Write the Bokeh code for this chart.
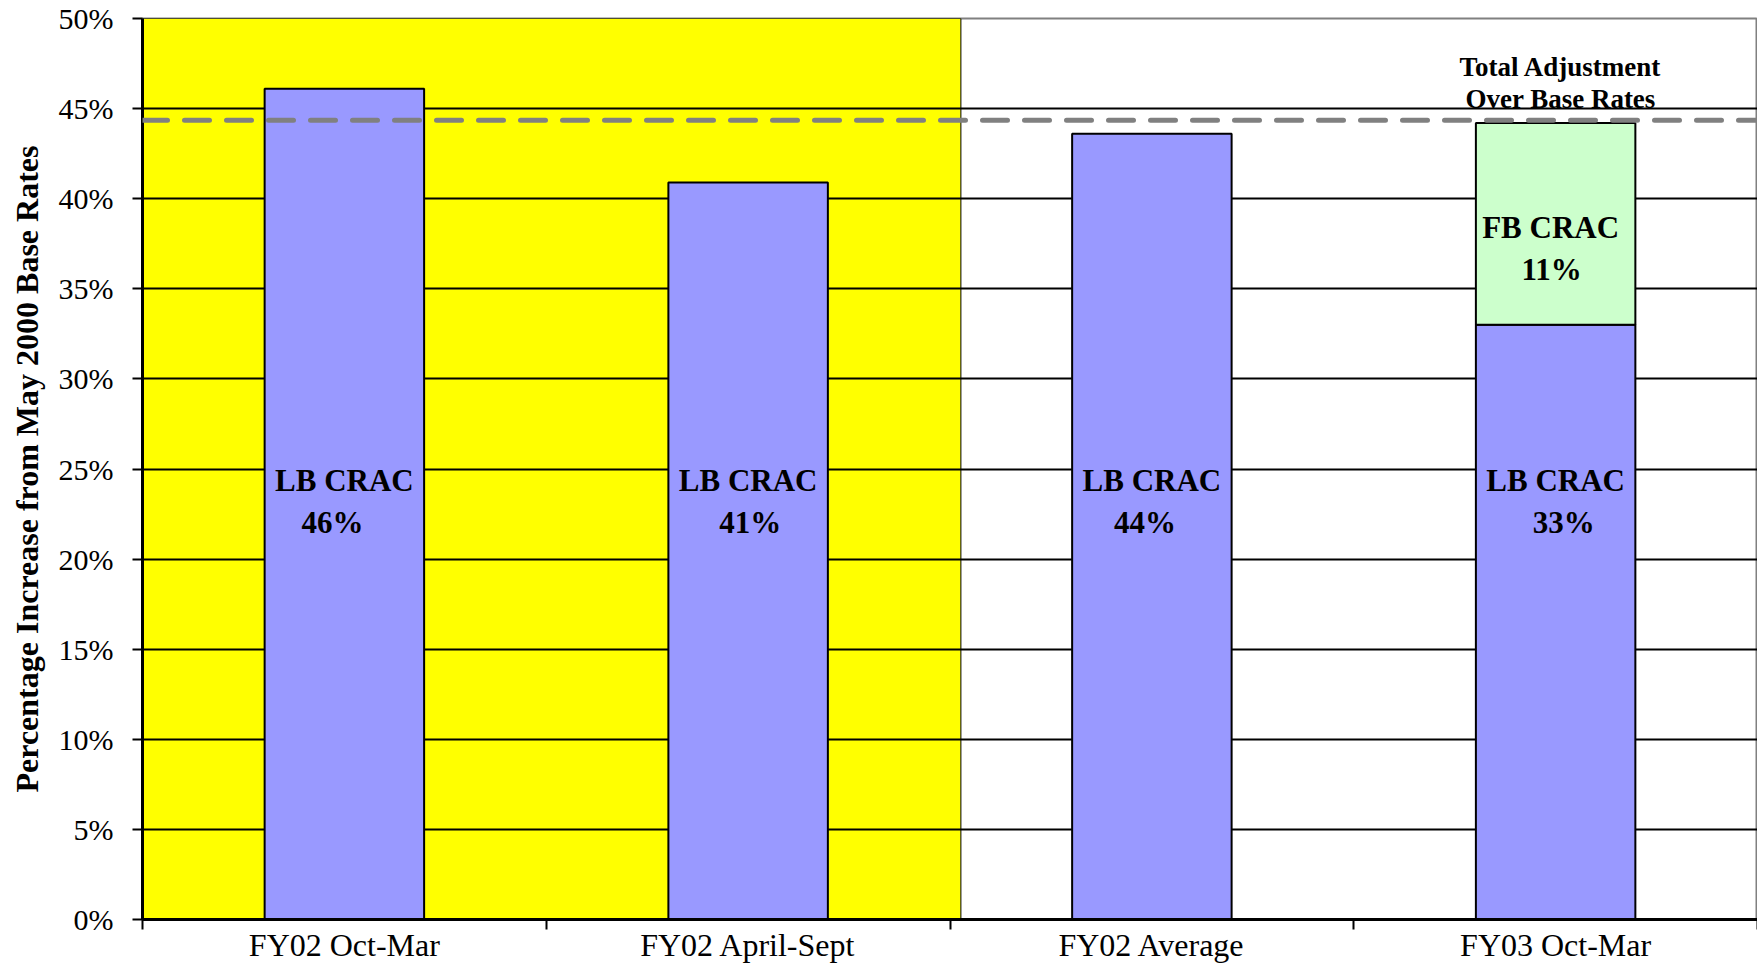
from bokeh.plotting import figure
from bokeh.models import FixedTicker, Span, Range1d
from bokeh.core.properties import value
from bokeh.embed import file_html
from bokeh.resources import INLINE

# ---- data ----
categories = ["FY02 Oct-Mar", "FY02 April-Sept", "FY02 Average", "FY03 Oct-Mar"]
lb_crac = [46.1, 40.9, 43.6, 33.0]
fb_crac = [0.0, 0.0, 0.0, 11.2]
lb_labels = ["46%", "41%", "44%", "33%"]
fb_labels = ["", "", "", "11%"]
total_adjustment = 44.35
y_ticks = [0, 5, 10, 15, 20, 25, 30, 35, 40, 45, 50]
y_tick_labels = ["0%", "5%", "10%", "15%", "20%", "25%", "30%", "35%", "40%", "45%", "50%"]
shaded_count = 2  # FY02 periods highlighted in yellow

FONT = "Liberation Serif"

n = len(categories)
xs = [i + 0.5 for i in range(n)]
bounds = [float(i) for i in range(n + 1)]

p = figure(width=1757, height=965,
           x_range=Range1d(0, n), y_range=Range1d(y_ticks[0], y_ticks[-1]),
           output_backend="svg", toolbar_location=None,
           min_border_left=142, min_border_right=0,
           min_border_top=18, min_border_bottom=46)
p.background_fill_color = "white"
p.border_fill_color = "white"
p.outline_line_color = "#808080"
p.outline_line_width = 2

# yellow highlighted region (below the grid)
p.quad(left=0, right=shaded_count + 0.027, bottom=y_ticks[0], top=y_ticks[-1],
       fill_color="#FFFF00", line_color="black", line_width=1, level="image")

# grid
p.xgrid.visible = False
p.ygrid.ticker = FixedTicker(ticks=y_ticks[1:-1])
p.ygrid.grid_line_color = "black"
p.ygrid.grid_line_width = 2

# bars
p.vbar(x=xs, bottom=0, top=lb_crac, width=0.395,
       fill_color="#9999FF", line_color="black", line_width=2)
fx = [x for x, f in zip(xs, fb_crac) if f > 0]
fb0 = [b for b, f in zip(lb_crac, fb_crac) if f > 0]
fb1 = [b + f for b, f in zip(lb_crac, fb_crac) if f > 0]
p.vbar(x=fx, bottom=fb0, top=fb1, width=0.395,
       fill_color="#CCFFCC", line_color="black", line_width=2)

# total adjustment line
p.add_layout(Span(location=total_adjustment, dimension="width",
                  line_color="#808080", line_width=5,
                  line_dash="25 17", line_cap="round"))

# labels in bars
txt = dict(text_align="center", text_baseline="alphabetic",
           text_font=value(FONT), text_font_style="bold",
           text_font_size="31px", text_color="black", y_offset=-10)
p.text(x=xs, y=[23.8] * n, text=["LB CRAC"] * n, **txt)
p.text(x=xs, y=[21.5] * n, text=lb_labels,
       x_offset=[-12, 2, -7, 8], **txt)
p.text(x=fx, y=[37.83] * len(fx), text=["FB CRAC"] * len(fx), x_offset=-5, **txt)
p.text(x=fx, y=[35.53] * len(fx), text=[l for l in fb_labels if l], x_offset=-4, **txt)

txt2 = dict(txt)
txt2["text_font_size"] = "27px"
txt2["y_offset"] = -8
p.text(x=[xs[-1]], y=[46.84], text=["Total Adjustment"], x_offset=5, **txt2)
p.text(x=[xs[-1]], y=[45.1], text=["Over Base Rates"], x_offset=5, **txt2)

# y axis
ya = p.yaxis[0]
ya.ticker = FixedTicker(ticks=y_ticks, minor_ticks=[])
ya.major_label_overrides = {t: l for t, l in zip(y_ticks, y_tick_labels)}
ya.major_tick_out = 10
ya.major_tick_in = 0
ya.major_tick_line_width = 2
ya.major_tick_line_color = "black"
ya.axis_line_color = "black"
ya.axis_line_width = 3
ya.major_label_standoff = 19
ya.major_label_text_font = FONT
ya.major_label_text_font_size = "30px"
ya.major_label_text_color = "black"
ya.axis_label = "Percentage Increase from May 2000 Base Rates"
ya.axis_label_text_font = FONT
ya.axis_label_text_font_style = "bold"
ya.axis_label_text_font_size = "32px"
ya.axis_label_text_color = "black"
ya.axis_label_standoff = 11

# x axis
xa = p.xaxis[0]
xa.ticker = FixedTicker(ticks=xs, minor_ticks=bounds)
xa.major_label_overrides = {x: c for x, c in zip(xs, categories)}
xa.major_tick_out = 0
xa.major_tick_in = 0
xa.minor_tick_out = 10
xa.minor_tick_in = 0
xa.minor_tick_line_color = "black"
xa.minor_tick_line_width = 2
xa.axis_line_color = "black"
xa.axis_line_width = 3
xa.major_label_standoff = -3
xa.major_label_text_font = FONT
xa.major_label_text_font_size = "32px"
xa.major_label_text_color = "black"

open("out.html", "w").write(file_html(p, INLINE))
